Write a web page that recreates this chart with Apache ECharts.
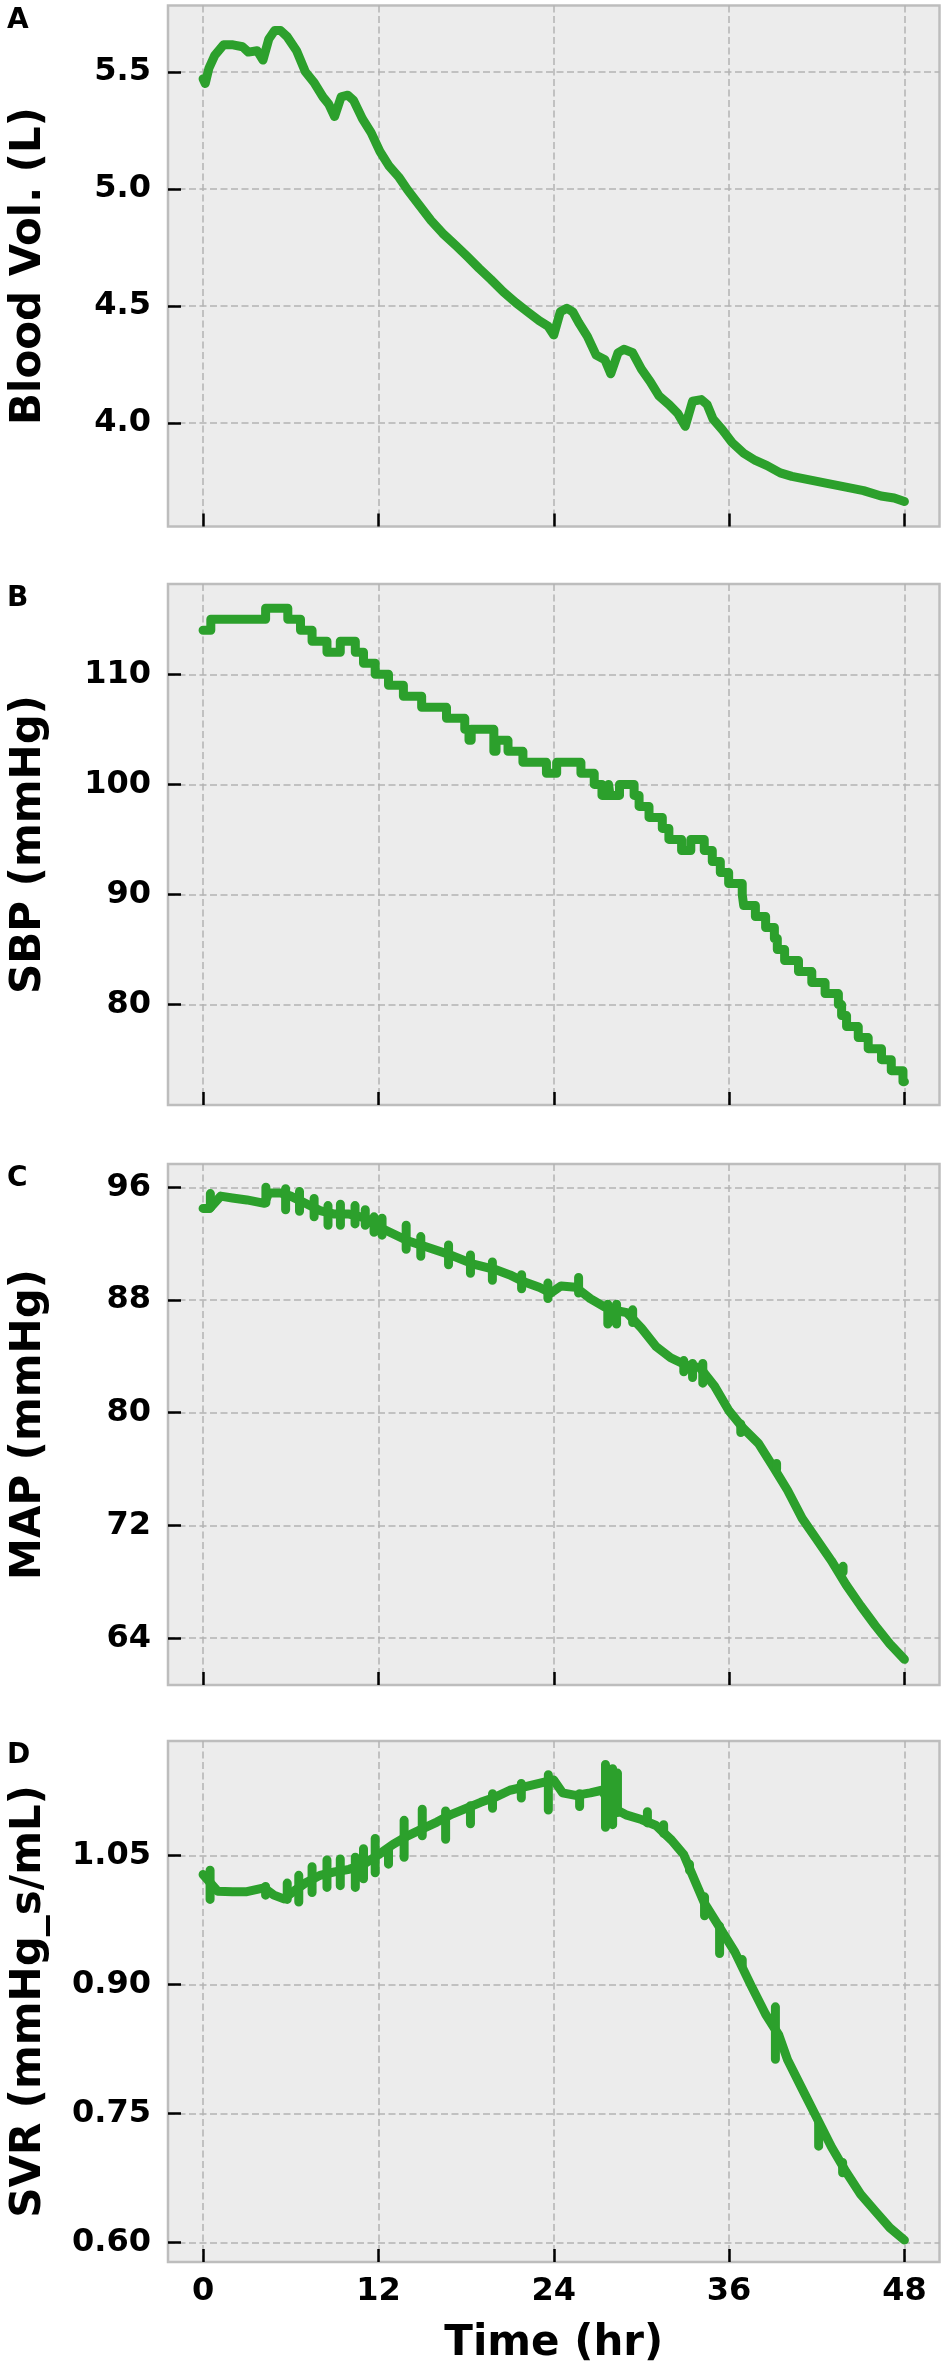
<!DOCTYPE html>
<html>
<head>
<meta charset="utf-8">
<script src="https://cdn.jsdelivr.net/npm/echarts@6/dist/echarts.min.js"></script>
<style>
html, body { margin: 0; padding: 0; background: #fff; }
#chart { width: 945px; height: 2368px; }
</style>
</head>
<body>
<div id="chart"></div>
<script>
const hourTicks = [0, 12, 24, 36, 48]

// A - blood volume (L)
const volTime = [0, 0.15, 0.4, 0.8, 1.4, 2.05, 2.7, 3.1, 3.7, 4.1, 4.5, 4.9, 5.3, 5.75, 6.4, 7.0, 7.6, 8.2, 8.6, 9.0,
  9.45, 9.9, 10.3, 10.9, 11.5, 12.1, 12.7, 13.4, 14.0, 14.8, 15.6, 16.4, 17.3, 18.1, 18.9, 19.7, 20.55, 21.4, 22.2, 23.0,
  23.6, 24.0, 24.45, 24.9, 25.3, 25.7, 26.3, 26.9, 27.5, 27.9, 28.4, 28.8, 29.4, 30.0, 30.6, 31.2, 31.9, 32.5, 33.0, 33.5,
  34.1, 34.5, 34.9, 35.55, 36.2, 37.0, 37.8, 38.6, 39.5, 40.3, 41.5, 42.7, 44.0, 45.2, 46.4, 47.3, 48.0]
const bloodVol = [5.47, 5.45, 5.515, 5.57, 5.615, 5.615, 5.607, 5.584, 5.59, 5.55, 5.64, 5.676, 5.676, 5.65, 5.59, 5.5, 5.454, 5.393, 5.362, 5.309,
  5.393, 5.40, 5.378, 5.30, 5.24, 5.16, 5.10, 5.05, 4.995, 4.93, 4.865, 4.81, 4.758, 4.71, 4.66, 4.613, 4.56, 4.514, 4.475, 4.437,
  4.414, 4.376, 4.475, 4.49, 4.475, 4.43, 4.37, 4.29, 4.27, 4.21, 4.30, 4.315, 4.30, 4.23, 4.177, 4.116, 4.078, 4.04, 3.986, 4.093,
  4.10, 4.078, 4.017, 3.97, 3.917, 3.871, 3.84, 3.818, 3.787, 3.772, 3.757, 3.742, 3.726, 3.711, 3.688, 3.68, 3.665]
const volTicks = [4.0, 4.5, 5.0, 5.5]

// B - SBP (mmHg), each value held until the next change
const sbpTime = [0, 0.53, 4.28, 5.8, 6.67, 7.46, 8.48, 9.39, 10.42, 10.98, 11.78, 12.69, 13.71, 14.96, 16.66, 17.91, 18.2, 18.35, 19.9, 20.05,
  20.87, 21.89, 23.5, 24.2, 25.86, 26.77, 27.3, 27.75, 27.85, 28.5, 29.5, 29.84, 30.52, 31.43, 31.88, 32.75, 33.38, 34.3, 34.85, 35.4,
  35.97, 36.9, 37.0, 37.8, 38.5, 39.1, 39.3, 39.8, 40.75, 41.66, 42.57, 43.48, 43.7, 44.04, 44.84, 45.52, 46.43, 47.1, 47.9, 48.0]
const sbp = [114, 115, 116, 115, 114, 113, 112, 113, 112, 111, 110, 109, 108, 107, 106, 105, 104, 105, 103, 104,
  103, 102, 101, 102, 101, 100, 99, 100, 99, 100, 99, 98, 97, 96, 95, 94, 95, 94, 93, 92,
  91, 90, 89, 88, 87, 86, 85, 84, 83, 82, 81, 80, 79, 78, 77, 76, 75, 74, 73, 73]
const sbpTicks = [80, 90, 100, 110]

// C - MAP (mmHg)
const mapTime = [0, 0.45, 1.2, 2.0, 3.0, 4.2, 4.5, 5.3, 6.0, 7.0, 8.0, 9.0, 10.0, 11.0, 12.0, 13.0, 14.0, 15.2, 17.0, 18.5,
  20.0, 21.0, 22.0, 23.0, 23.8, 24.5, 25.5, 26.5, 27.5, 28.5, 29.0, 30.0, 31.0, 32.0, 33.0, 34.0, 35.0, 36.0, 37.0, 38.0,
  39.0, 40.0, 41.0, 42.0, 43.0, 44.0, 45.0, 46.0, 47.0, 48.0]
const mapBase = [94.5, 94.5, 95.37, 95.24, 95.1, 94.86, 95.6, 95.6, 95.37, 94.86, 94.35, 94.1, 94.1, 93.84, 93.2, 92.7, 92.2, 91.8, 91.17, 90.54,
  90.16, 89.78, 89.27, 88.9, 88.5, 89.0, 88.9, 88.1, 87.5, 87.2, 87.1, 86.0, 84.7, 83.9, 83.4, 83.2, 81.9, 80.13, 78.86, 77.84,
  76.2, 74.5, 72.5, 71.0, 69.5, 67.8, 66.3, 64.9, 63.6, 62.5]
const mapSpikeTime = [0.5, 4.3, 5.65, 6.6, 7.6, 8.55, 9.4, 10.4, 11.1, 11.7, 12.25, 13.9, 14.9, 16.8, 18.3, 19.8, 21.8, 23.6, 25.7, 27.7,
  28.3, 29.4, 32.9, 33.5, 34.2, 36.8, 39.25, 43.8]
const mapSpikeHigh = [95.55, 96.0, 95.9, 95.7, 95.2, 94.7, 94.8, 94.7, 94.4, 93.9, 93.8, 93.3, 92.5, 91.9, 91.2, 90.7, 89.8, 89.2, 89.6, 87.7,
  87.7, 87.3, 83.7, 83.5, 83.5, 79.2, 76.4, 69.1]
const mapSpikeLow = [94.55, 94.9, 94.4, 94.3, 93.9, 93.3, 93.3, 93.4, 93.3, 92.8, 92.6, 91.6, 91.1, 90.5, 89.9, 89.4, 88.8, 88.1, 88.5, 86.3,
  86.3, 86.4, 82.9, 82.5, 82.1, 78.6, 76.0, 68.7]
const mapTicks = [64, 72, 80, 88, 96]

// D - SVR (mmHg_s/mL)
const svrTime = [0, 1, 2, 3, 4.17, 4.85, 5.53, 6.2, 7, 8, 9, 10, 11, 12, 13, 14, 15, 16, 17,
  18, 19, 20, 21, 22, 23, 24, 24.6, 25.5, 26.5, 27.3, 28, 29, 30, 31, 32.06, 32.9, 33.7, 34.3, 35.35,
  36.4, 37.5, 38.5, 39.4, 40, 41, 42, 43, 44, 45, 46, 47, 48]
const svrBase = [1.028, 1.0085, 1.0078, 1.008, 1.0125, 1.004, 0.9996, 1.0085, 1.018, 1.027, 1.031, 1.034, 1.040, 1.051, 1.063, 1.073, 1.081, 1.089, 1.098,
  1.105, 1.112, 1.118, 1.126, 1.130, 1.134, 1.138, 1.123, 1.12, 1.123, 1.126, 1.106, 1.097, 1.092, 1.085, 1.068, 1.051, 1.019, 0.995, 0.9666,
  0.9377, 0.899, 0.8654, 0.8413, 0.8124, 0.7786, 0.745, 0.7112, 0.6822, 0.656, 0.6364, 0.617, 0.6027]
const svrSpikeTime = [0.48, 4.28, 5.76, 6.55, 7.46, 8.48, 9.39, 10.42, 10.98, 11.78, 12.69, 13.76, 15.0, 16.6, 18.3, 19.81, 21.78, 23.63, 25.77, 27.54,
  28.03, 28.36, 30.41, 31.52, 33.29, 34.32, 35.35, 36.9, 39.17, 42.13, 43.77]
const svrSpikeHigh = [1.033, 1.014, 1.018, 1.027, 1.037, 1.045, 1.046, 1.048, 1.058, 1.070, 1.058, 1.091, 1.104, 1.102, 1.108, 1.122, 1.134, 1.144, 1.122, 1.156,
  1.151, 1.146, 1.101, 1.086, 1.040, 1.002, 0.968, 0.929, 0.874, 0.739, 0.693]
const svrSpikeLow = [0.999, 1.004, 0.999, 0.996, 1.007, 1.013, 1.015, 1.013, 1.023, 1.030, 1.040, 1.048, 1.073, 1.069, 1.087, 1.105, 1.117, 1.103, 1.107, 1.083,
  1.086, 1.100, 1.088, 1.076, 1.033, 0.980, 0.936, 0.922, 0.813, 0.712, 0.681]
const svrTicks = [0.60, 0.75, 0.90, 1.05]

const green = '#2ca02c'
const font = 'DejaVu Sans'
const gridTops = [5.5, 584, 1164, 1741]
const gridLeft = 163.5
const gridWidth = 776
const gridHeight = 521

function pairs(xs, ys) {
  return xs.map((x, i) => [x, ys[i]])
}
// short vertical strokes, broken apart with '-'
function spikes(ts, hi, lo) {
  const out = []
  ts.forEach((t, i) => {
    out.push([t, hi[i]], [t, lo[i]], [t, '-'])
  })
  return out
}

const panels = [
  { letter: 'A', name: 'Blood Vol. (L)', min: 3.558, max: 5.783, ticks: volTicks, digits: 1,
    line: pairs(volTime, bloodVol) },
  { letter: 'B', name: 'SBP (mmHg)', min: 70.88, max: 118.2, ticks: sbpTicks, digits: 0,
    line: pairs(sbpTime, sbp), step: 'end' },
  { letter: 'C', name: 'MAP (mmHg)', min: 60.68, max: 97.65, ticks: mapTicks, digits: 0,
    line: pairs(mapTime, mapBase), extra: spikes(mapSpikeTime, mapSpikeHigh, mapSpikeLow) },
  { letter: 'D', name: 'SVR (mmHg_s/mL)', min: 0.5772, max: 1.1833, ticks: svrTicks, digits: 2,
    line: pairs(svrTime, svrBase), extra: spikes(svrSpikeTime, svrSpikeHigh, svrSpikeLow) }
]

const gridLine = { show: true, lineStyle: { color: '#b3b3b3', width: 1.5, type: [7, 3.5] } }
const tickStyle = { color: '#000', width: 2.5 }
const labelText = { fontFamily: font, fontWeight: 'bold', fontSize: 32, color: '#000' }
const titleText = { fontFamily: font, fontWeight: 'bold', fontSize: 42, color: '#000' }

const option = {
  animation: false,
  title: [],
  grid: [],
  xAxis: [],
  yAxis: [],
  series: []
}

panels.forEach((p, i) => {
  option.title.push({
    text: p.letter, left: 7, top: gridTops[i] + 1, padding: 0,
    textStyle: { fontFamily: font, fontWeight: 'bold', fontSize: 28, color: '#000' }
  })
  option.grid.push({
    left: gridLeft, top: gridTops[i], width: gridWidth, height: gridHeight,
    show: true, backgroundColor: '#ececec', borderColor: '#bdbdbd', borderWidth: 2.5
  })
  option.xAxis.push({
    gridIndex: i, type: 'value', min: -2.4, max: 50.4,
    axisLine: { show: false, onZero: false },
    axisTick: { show: true, inside: true, length: 13, lineStyle: tickStyle, customValues: hourTicks },
    axisLabel: { show: i === 3, customValues: hourTicks, margin: 14, ...labelText },
    splitLine: gridLine,
    name: i === 3 ? 'Time (hr)' : '',
    nameLocation: 'middle', nameGap: 61, nameTextStyle: titleText
  })
  option.yAxis.push({
    gridIndex: i, type: 'value', min: p.min, max: p.max,
    axisLine: { show: false, onZero: false },
    axisTick: { show: true, inside: true, length: 13, lineStyle: tickStyle, customValues: p.ticks },
    axisLabel: { customValues: p.ticks, margin: 17, formatter: v => v.toFixed(p.digits), ...labelText },
    splitLine: gridLine,
    name: p.name, nameLocation: 'middle', nameRotate: 90, nameGap: 118, nameTextStyle: titleText
  })
  const lineStyle = { color: green, width: 9, cap: 'round', join: 'round' }
  option.series.push({
    type: 'line', xAxisIndex: i, yAxisIndex: i, data: p.line, step: p.step || false,
    showSymbol: false, symbol: 'none', lineStyle: lineStyle, silent: true, z: 3
  })
  if (p.extra) {
    option.series.push({
      type: 'line', xAxisIndex: i, yAxisIndex: i, data: p.extra, connectNulls: false,
      showSymbol: false, symbol: 'none', lineStyle: lineStyle, silent: true, z: 3
    })
  }
})

const chart = echarts.init(document.getElementById('chart'), null, { renderer: 'canvas' })
chart.setOption(option)
</script>
</body>
</html>
